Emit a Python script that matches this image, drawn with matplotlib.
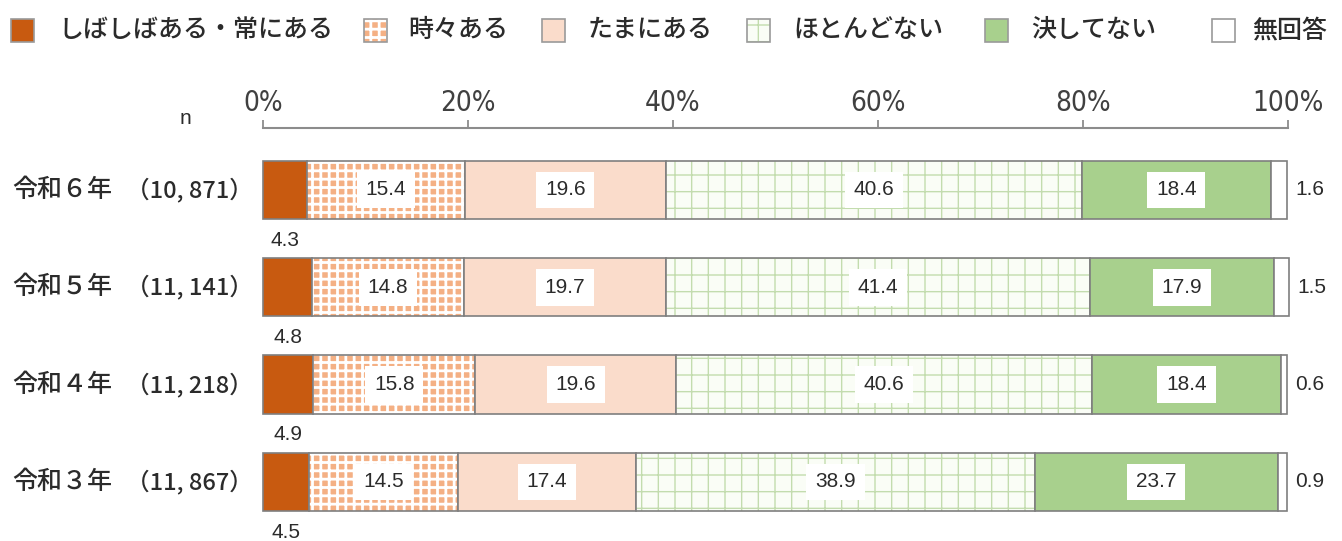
import numpy as np
import matplotlib
matplotlib.use("Agg")
import matplotlib.pyplot as plt
from matplotlib.patches import Rectangle
from matplotlib.transforms import blended_transform_factory
from matplotlib import font_manager

# ---- data -------------------------------------------------------------
categories = ["令和６年", "令和５年", "令和４年", "令和３年"]
sample_sizes = ["（10, 871）", "（11, 141）", "（11, 218）", "（11, 867）"]
responses = ["しばしばある・常にある", "時々ある", "たまにある", "ほとんどない", "決してない", "無回答"]

often = [4.3, 4.8, 4.9, 4.5]
sometimes = [15.4, 14.8, 15.8, 14.5]
occasionally = [19.6, 19.7, 19.6, 17.4]
rarely = [40.6, 41.4, 40.6, 38.9]
never = [18.4, 17.9, 18.4, 23.7]
no_answer = [1.6, 1.5, 0.6, 0.9]

xticks = [0, 20, 40, 60, 80, 100]
xtick_labels = ["0%", "20%", "40%", "60%", "80%", "100%"]

series = [often, sometimes, occasionally, rarely, never, no_answer]

# ---- styles -----------------------------------------------------------
styles = [
    dict(face="#C85A10", hatch=None, hcolor="#C85A10", hlw=1.0),
    dict(face="#F4B084", hatch="++", hcolor="#FFFFFF", hlw=2.0),
    dict(face="#FADCCB", hatch=None, hcolor="#FADCCB", hlw=1.0),
    dict(face="#FAFDF6", hatch="+", hcolor="#C3DCAE", hlw=1.0),
    dict(face="#A8D08D", hatch=None, hcolor="#A8D08D", hlw=1.0),
    dict(face="#FFFFFF", hatch=None, hcolor="#FFFFFF", hlw=1.0),
]
OUTLINE = "#7F7F7F"
TEXT = "#2B2B2B"

fonts = font_manager.fontManager.ttflist
names = {f.name for f in fonts}
CJK = ["Noto Sans CJK JP", "DejaVu Sans"]
NUM = ["Liberation Sans", "DejaVu Sans"]
if "Liberation Sans Narrow" in names:
    TICK_FONT = dict(family=["Liberation Sans Narrow"])
elif any(f.name == "DejaVu Sans" and f.stretch == "condensed" for f in fonts):
    TICK_FONT = dict(family=["DejaVu Sans"], stretch="condensed")
else:
    TICK_FONT = dict(family=["Liberation Sans"])

W, H = 1342, 541
fig = plt.figure(figsize=(W / 100, H / 100), dpi=100)
ax = fig.add_axes([263 / W, 0, 1025 / W, 413 / H])
ax.set_xlim(0, 100)
ax.set_ylim(3.607, -0.637)

y = np.arange(len(categories))
bar_h = 0.6
left = np.zeros(len(categories))
for vals, st in zip(series, styles):
    vals = np.asarray(vals, dtype=float)
    with plt.rc_context({"hatch.linewidth": st["hlw"]}):
        ax.barh(y, vals, left=left, height=bar_h, color=st["face"],
                edgecolor=st["hcolor"], hatch=st["hatch"], linewidth=0,
                clip_on=False)
    ax.barh(y, vals, left=left, height=bar_h, fill=False,
            edgecolor=OUTLINE, linewidth=1.2, clip_on=False)
    left += vals

# value labels
lefts = np.cumsum([np.zeros(4)] + [np.asarray(s) for s in series[:-1]], axis=0)
for i in range(len(categories)):
    # first segment: label below the bar
    ax.text(lefts[0][i] + often[i] / 2, y[i] + bar_h / 2 + 0.215, f"{often[i]:.1f}",
            ha="center", va="center", fontsize=15, family=NUM, color=TEXT)
    for k in range(1, 5):
        v = series[k][i]
        ax.text(lefts[k][i] + v / 2, y[i], f"{v:.1f}", ha="center", va="center",
                fontsize=15, family=NUM, color=TEXT,
                bbox=dict(boxstyle="square,pad=0.42", fc="white", ec="none"))
    ax.text(lefts[5][i] + no_answer[i] + 0.8, y[i], f"{no_answer[i]:.1f}",
            ha="left", va="center", fontsize=15, family=NUM, color=TEXT)

# axis styling
for side in ["left", "right", "bottom"]:
    ax.spines[side].set_visible(False)
ax.spines["top"].set_color("#8C8C8C")
ax.spines["top"].set_linewidth(1.5)
ax.xaxis.tick_top()
ax.set_xticks(xticks)
ax.set_xticklabels(xtick_labels, fontsize=20, color="#404040", **TICK_FONT)
ax.tick_params(axis="x", length=6, width=1.3, color="#8C8C8C", pad=2)
ax.set_yticks([])

# row labels
trans = blended_transform_factory(fig.transFigure, ax.transData)
for i, (cat, n) in enumerate(zip(categories, sample_sizes)):
    ax.text(12 / W, y[i], cat, transform=trans, ha="left", va="center",
            fontsize=18, family=CJK, weight="medium", color=TEXT)
    ax.text(126 / W, y[i], n, transform=trans, ha="left", va="center",
            fontsize=17, family=CJK, weight="medium", color=TEXT)
fig.text(185 / W, 1 - 118 / H, "n", ha="center", va="center",
         fontsize=15, family=NUM, color=TEXT)

# legend
sq_x = [11, 364, 542, 747, 985, 1212]
txt_x = [58, 408, 588, 793, 1031, 1252]
sq = 23
cy = 30
for st, lab, sx, tx in zip(styles, responses, sq_x, txt_x):
    with plt.rc_context({"hatch.linewidth": st["hlw"]}):
        r = Rectangle((sx / W, 1 - (cy + sq / 2) / H), sq / W, sq / H,
                      transform=fig.transFigure, facecolor=st["face"],
                      edgecolor=st["hcolor"], hatch=st["hatch"], linewidth=0)
        fig.add_artist(r)
    fig.add_artist(Rectangle((sx / W, 1 - (cy + sq / 2) / H), sq / W, sq / H,
                             transform=fig.transFigure, fill=False,
                             edgecolor="#9A9A9A", linewidth=1.2))
    fig.text(tx / W, 1 - cy / H, lab, ha="left", va="center",
             fontsize=18, family=CJK, weight="medium", color=TEXT)

fig.savefig("out.png", dpi=100)
